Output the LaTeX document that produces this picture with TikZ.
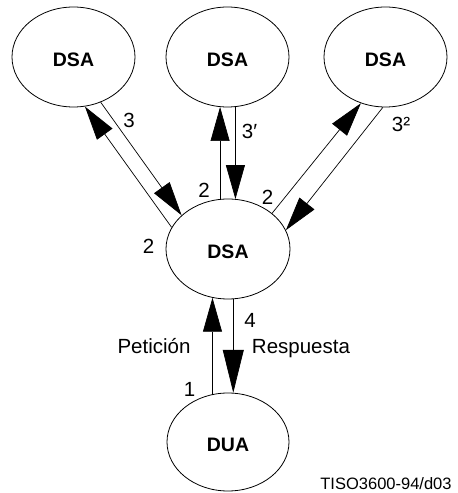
\documentclass[tikz,border=0pt]{standalone}
\usepackage{fontspec}
\setmainfont{Liberation Sans}
\usetikzlibrary{arrows.meta,shapes.geometric}
\begin{document}
\begin{tikzpicture}[x=1pt,y=1pt,
  agent/.style={ellipse,draw,line width=0.8pt,inner sep=0pt,minimum width=123pt,minimum height=100pt,
    font=\fontsize{19.5}{19.5}\selectfont\bfseries,text height=19.8pt,text depth=0pt},
  lab/.style={anchor=base,inner sep=0pt,font=\fontsize{20.5}{21}\selectfont},
  flow/.style={line width=0.7pt,-{Triangle[length=34pt,width=19pt]}},
  flowbig/.style={line width=0.7pt,-{Triangle[length=43pt,width=21pt]}}]
\useasboundingbox (0,0) rectangle (458,493);
\node[agent] (TL) at (73.5,436) {DSA};
\node[agent] (TM) at (227.5,436) {DSA};
\node[agent] (TR) at (385.5,436) {DSA};
\node[agent,minimum width=124pt] (C) at (228,244) {DSA};
\node[agent,minimum width=122pt,minimum height=98pt] (DUA) at (228,51) {DUA};
% connectors
\draw[flow] (C.159.4) -- (TL.283.2);
\draw[flow] (TL.301.8) -- (C.144.7);
\draw[flow] (C.99.3) -- (C.99.3 |- TM.261.5);
\draw[flow] (TM.279.7) -- (TM.279.7 |- C.80.7);
\draw[flow] (C.39.3) -- (TR.242.9);
\draw[flow] (TR.267.1) -- (C.18.4);
\draw[flow] (DUA.108.4) -- (DUA.108.4 |- C.252);
\draw[flowbig] (C.276) -- (C.276 |- DUA.84.2);
% labels
\node[lab] (l3) at (129,365) {3};
\node[lab] (l3p) at (249.5,354) {3′};
\node[lab] (l3s) at (401,361) {3²};
\node[lab] (l2a) at (204,295) {2};
\node[lab] (l2b) at (267.5,288) {2};
\node[lab] (l2c) at (148.5,239) {2};
\node[lab] (l4) at (250,165) {4};
\node[lab] (l1) at (189.5,96) {1};
\node[lab] (pet) at (154,139) {Petición};
\node[lab] (resp) at (301,139) {Respuesta};
\node[lab,font=\fontsize{16.5}{17}\selectfont] (code) at (386,4) {TISO3600-94/d03};
\end{tikzpicture}
\end{document}
